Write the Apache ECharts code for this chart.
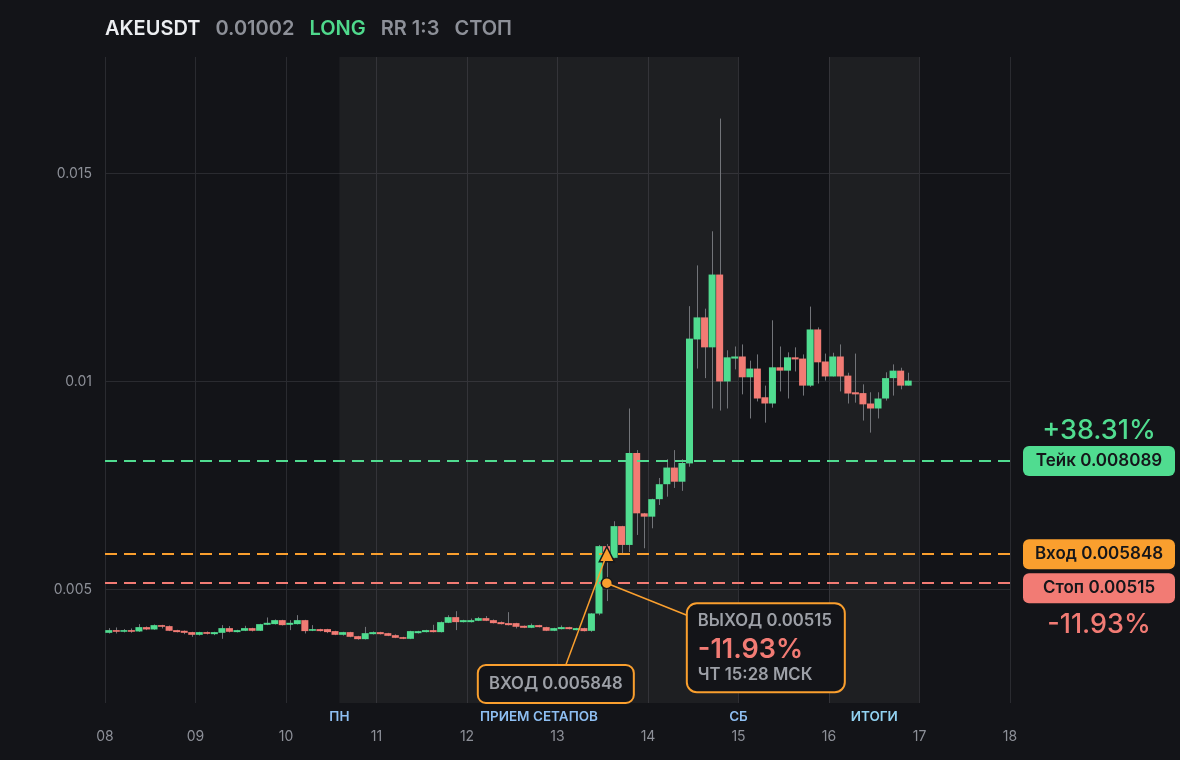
<!DOCTYPE html>
<html><head><meta charset="utf-8">
<script src="https://cdn.jsdelivr.net/npm/echarts@6/dist/echarts.min.js"></script>
<style>html,body{margin:0;padding:0;background:#131418;}#c{width:1180px;height:760px;}</style>
</head><body><div id="c"></div>
<script>
// ---------- data ----------
const symbolName = 'AKEUSDT';
const lastPrice = '0.01002';
const side = 'LONG';
const rrText = 'RR 1:3';
const statusText = 'СТОП';

const candleStartDay = 8;      // first candle opens at day 08 00:00
const candlesPerDay = 12;      // 2h candles
const opens = [0.003957,0.004022,0.003982,0.004022,0.00399,0.004094,0.004038,0.004142,0.004118,0.004022,
0.004006,0.003974,0.003909,0.003974,0.003925,0.003957,0.00407,0.003974,0.004006,0.00407,
0.004006,0.00415,0.004166,0.004262,0.00415,0.004166,0.004262,0.004006,0.004046,0.004046,
0.003998,0.003909,0.003974,0.003877,0.003805,0.003925,0.003974,0.003949,0.003901,0.003853,
0.003813,0.003949,0.003974,0.004022,0.003974,0.004198,0.004334,0.004214,0.004214,0.004246,
0.00431,0.004262,0.004214,0.00419,0.00419,0.004126,0.004078,0.004142,0.004094,0.004006,
0.004046,0.004094,0.004022,0.00407,0.004005,0.00442,0.006041,0.00576,0.006522,0.00607,
0.00828,0.00683,0.00675,0.00717,0.00753,0.00793,0.00759,0.00803,0.01101,0.01154,
0.01082,0.01257,0.0100,0.01055,0.0106,0.0101,0.01031,0.00962,0.00947,0.01034,
0.01026,0.01058,0.01055,0.0099,0.01125,0.01048,0.01012,0.0106,0.01014,0.00974,
0.00972,0.00947,0.00935,0.00959,0.01008,0.01026,0.0099];
const closes = [0.004022,0.003982,0.004022,0.003982,0.004094,0.004038,0.004142,0.004102,0.004006,0.003974,
0.003957,0.003909,0.003974,0.003933,0.003974,0.00407,0.003982,0.004022,0.00407,0.004006,
0.004166,0.004198,0.004262,0.004142,0.004198,0.004262,0.003998,0.004046,0.003998,0.003974,
0.003909,0.003974,0.003861,0.003805,0.003949,0.003974,0.003925,0.003885,0.003837,0.003813,
0.003998,0.003998,0.004022,0.003974,0.004214,0.004334,0.004214,0.004262,0.004262,0.00431,
0.004246,0.00419,0.004166,0.004142,0.004102,0.004078,0.004142,0.004094,0.004006,0.00407,
0.004094,0.004046,0.00407,0.003998,0.004423,0.006041,0.005784,0.006522,0.00607,0.00828,
0.00683,0.00675,0.00717,0.00753,0.00793,0.00759,0.00804,0.01103,0.01154,0.01082,
0.01257,0.0100,0.01058,0.0106,0.0101,0.01031,0.00959,0.00947,0.01034,0.01026,
0.01058,0.01053,0.0099,0.01125,0.01046,0.01012,0.0106,0.01012,0.00971,0.00969,
0.00945,0.00935,0.00959,0.01008,0.01026,0.0099,0.01002];
const lows = [0.00394,0.003942,0.003966,0.003958,0.00398,0.004022,0.00403,0.004062,0.003998,0.003966,
0.003925,0.003861,0.003893,0.003917,0.003901,0.003813,0.003966,0.003966,0.003998,0.00399,
0.004,0.004142,0.004158,0.004134,0.004022,0.004158,0.003942,0.003998,0.00399,0.00395,
0.003901,0.00389,0.00385,0.00379,0.003797,0.003917,0.003917,0.003877,0.003829,0.003805,
0.003805,0.003941,0.003966,0.003966,0.003966,0.00419,0.004022,0.004206,0.004206,0.004238,
0.004238,0.004182,0.004158,0.004134,0.004062,0.00407,0.00407,0.004086,0.003998,0.003998,
0.004038,0.004038,0.004014,0.00399,0.00398,0.00438,0.00472,0.00575,0.00587,0.0059,
0.00631,0.00599,0.00647,0.00703,0.00723,0.00744,0.00737,0.00795,0.01031,0.01008,
0.00935,0.0093,0.00935,0.01029,0.00969,0.00911,0.00952,0.00901,0.00937,0.00976,
0.00959,0.01024,0.00966,0.00987,0.00995,0.01002,0.01012,0.00976,0.00947,0.00949,
0.00906,0.00877,0.00911,0.00954,0.00966,0.00981,0.0099];
const highs = [0.00407,0.004086,0.004046,0.004062,0.004166,0.00411,0.004158,0.00415,0.004134,0.00403,
0.004014,0.003982,0.003982,0.00399,0.003982,0.004142,0.004118,0.00403,0.004126,0.004078,
0.004174,0.004326,0.004278,0.00427,0.004262,0.004382,0.00427,0.004142,0.004054,0.004054,
0.004006,0.003982,0.003982,0.003885,0.0041,0.00399,0.003982,0.003957,0.00392,0.003861,
0.004006,0.004006,0.00403,0.00415,0.00423,0.00438,0.004478,0.00427,0.0043,0.00434,
0.00436,0.004278,0.00423,0.004454,0.004198,0.004134,0.00418,0.00415,0.004102,0.004078,
0.004134,0.004102,0.004078,0.004078,0.00443,0.00607,0.00609,0.00664,0.00653,0.00935,
0.00835,0.00684,0.00718,0.00768,0.00813,0.00835,0.00813,0.01181,0.01279,0.01175,
0.01361,0.01632,0.01075,0.01084,0.01089,0.0105,0.01065,0.0099,0.01147,0.01084,
0.0107,0.01082,0.01065,0.0118,0.0113,0.01067,0.01069,0.01089,0.01021,0.01067,
0.00993,0.00974,0.00974,0.01022,0.01041,0.01033,0.01021];

const dayTickLabels = ['08','09','10','11','12','13','14','15','16','17','18'];
const priceTickLabels = {'0.005':'0.005','0.01':'0.01','0.015':'0.015'};

const takePrice = 0.008089, entryPrice = 0.005848, stopPrice = 0.00515;
const tradeTime = 13.545;
const takeText = 'Тейк 0.008089', entryText = 'Вход 0.005848', stopText = 'Стоп 0.00515';
const takePct = '+38.31%', stopPct = '-11.93%';
const entryCallout = 'ВХОД 0.005848';
const exitCallout = ['ВЫХОД 0.00515', '-11.93%', 'ЧТ 15:28 МСК'];

const sessionBands = [[10.59, 15, 'ПРИЕМ СЕТАПОВ', '#8ebff3'], [16, 17, 'ИТОГИ', '#92d3f2']];
const dayMarkers = [[10.59, 'ПН'], [15, 'СБ']];

// ---------- style ----------
const BG = '#131418', GREEN = '#50dc90', RED = '#f27b74', ORANGE = '#fa9f2e', GREY = '#8d9098', TXT = '#9da0a7';
const BLUE = '#8ebff3';
const FONT = 'Inter';

const candleData = opens.map((o, i) => [candleStartDay + (i + 0.5) / candlesPerDay, o, closes[i], lows[i], highs[i]]);

function renderCandle(params, api) {
  const x = api.value(0), o = api.value(1), c = api.value(2), l = api.value(3), h = api.value(4);
  const pO = api.coord([x, o]), pC = api.coord([x, c]), pL = api.coord([x, l]), pH = api.coord([x, h]);
  const w = api.size([1 / candlesPerDay, 0])[0] * 0.93;
  const top = Math.min(pO[1], pC[1]);
  let hh = Math.abs(pO[1] - pC[1]); if (hh < 1.5) hh = 1.5;
  const wx = Math.round(pO[0]) + 0.5;
  return {type: 'group', children: [
    {type: 'line', shape: {x1: wx, y1: pL[1], x2: wx, y2: pH[1]}, style: {stroke: '#727479', lineWidth: 1}},
    {type: 'rect', shape: {x: pO[0] - w / 2, y: top, width: w, height: hh}, style: {fill: c >= o ? GREEN : RED}}
  ]};
}

const chart = echarts.init(document.getElementById('c'));
const GRID = {left: 105, right: 170, top: 57, bottom: 57};
const DASH = [12, 7];
chart.setOption({
  backgroundColor: BG,
  animation: false,
  textStyle: {fontFamily: FONT},
  title: {
    left: 105, top: 15, padding: 0,
    text: `{s|${symbolName}}{p|${lastPrice}}{l|${side}}{g|${rrText}}{h|${statusText}}`,
    textStyle: {rich: {
      s: {color: '#eceef1', fontSize: 20, fontWeight: 600, fontFamily: FONT, lineHeight: 28, padding: [0, 15, 0, 0]},
      p: {color: GREY, fontSize: 20, fontWeight: 600, fontFamily: FONT, lineHeight: 28, padding: [0, 15, 0, 0]},
      l: {color: '#4fd98c', fontSize: 20, fontWeight: 600, fontFamily: FONT, lineHeight: 28, padding: [0, 15, 0, 0]},
      g: {color: GREY, fontSize: 20, fontWeight: 600, fontFamily: FONT, lineHeight: 28, padding: [0, 15, 0, 0]},
      h: {color: GREY, fontSize: 20, fontWeight: 600, fontFamily: FONT, lineHeight: 28}
    }}
  },
  grid: GRID,
  xAxis: {
    type: 'value', min: 8, max: 18, interval: 1,
    axisLine: {show: false}, axisTick: {show: false},
    axisLabel: {color: GREY, fontSize: 14, fontFamily: FONT, margin: 27,
      formatter: v => dayTickLabels[Math.round(v - 8)] || ''},
    splitLine: {show: true, lineStyle: {color: '#2a2b30', width: 1}}
  },
  yAxis: {
    type: 'value', min: 0.00227, max: 0.0178, splitNumber: 3,
    axisLine: {show: false}, axisTick: {show: false},
    axisLabel: {color: GREY, fontSize: 14, fontFamily: FONT, margin: 13, showMinLabel: false, showMaxLabel: false,
      formatter: v => priceTickLabels[String(parseFloat(v.toFixed(6)))] || ''},
    splitLine: {show: true, showMinLine: false, showMaxLine: false, lineStyle: {color: '#2a2b30', width: 1}}
  },
  series: [
    {
      type: 'custom', name: 'candles', renderItem: renderCandle, data: candleData, clip: true, z: 2,
      encode: {x: 0, y: [1, 2, 3, 4]},
      markArea: {
        silent: true,
        itemStyle: {color: 'rgba(255,255,255,0.047)'},
        label: {position: 'bottom', distance: 7, fontSize: 13.5, fontWeight: 600, fontFamily: FONT},
        data: sessionBands.map(b => [{xAxis: b[0], name: b[2], label: {color: b[3]}}, {xAxis: b[1]}])
      }
    },
    {
      type: 'scatter', name: 'trade', z: 10,
      data: [
        {value: [tradeTime, entryPrice], symbol: 'triangle', symbolSize: 15},
        {value: [tradeTime, stopPrice], symbol: 'circle', symbolSize: 11}
      ],
      itemStyle: {color: ORANGE, borderColor: '#16171b', borderWidth: 1.5, opacity: 1},
      markLine: {
        silent: true, symbol: 'none', label: {show: false}, z: 5, precision: 6,
        data: [
          {yAxis: takePrice, lineStyle: {color: GREEN, type: DASH, width: 2}},
          {yAxis: entryPrice, lineStyle: {color: ORANGE, type: DASH, width: 2}},
          {yAxis: stopPrice, lineStyle: {color: RED, type: DASH, width: 2}}
        ]
      }
    }
  ]
});

// ---------- annotations anchored through the axes ----------
function px(x, y) { return chart.convertToPixel({gridIndex: 0}, [x, y]); }
const pE = px(tradeTime, entryPrice), pS = px(tradeTime, stopPrice), pT = px(tradeTime, takePrice);
const gridBottom = 760 - GRID.bottom, gridRight = 1180 - GRID.right;

const entryBox = {x: pE[0] - 129, y: gridBottom - 38, w: 156, h: 38};
const exitBox = {x: pS[0] + 80, y: pS[1] + 20, w: 158, h: 89};
const bx = gridRight + 13, bw = 152, bh = 30;
const takeBoxY = pT[1] - bh / 2;
const entryBoxY = pE[1] - bh / 2;
const stopBoxY = Math.max(pS[1] - bh / 2, entryBoxY + bh + 4);

function pill(y, fill, text) {
  return [
    {type: 'rect', shape: {x: bx, y: y, width: bw, height: bh, r: 6}, style: {fill: fill}, z: 20},
    {type: 'text', x: bx + bw / 2, y: y + bh / 2, z: 21,
      style: {text: text, fill: '#15161a', font: `600 17px ${FONT}`, align: 'center', verticalAlign: 'middle'}}
  ];
}

const dayMarkerTexts = dayMarkers.map(d => {
  const p = px(d[0], 0.01);
  return {type: 'text', x: p[0], y: gridBottom + 13.5, z: 21,
    style: {text: d[1], fill: BLUE, font: `600 13.5px ${FONT}`, align: 'center', verticalAlign: 'middle'}};
});

const graphics = [
  ...dayMarkerTexts,
  {type: 'line', shape: {x1: pE[0], y1: pE[1], x2: pE[0] - 41, y2: entryBox.y}, style: {stroke: ORANGE, lineWidth: 1.5}, z: 15},
  {type: 'rect', shape: {x: entryBox.x, y: entryBox.y, width: entryBox.w, height: entryBox.h, r: 8},
    style: {fill: BG, stroke: ORANGE, lineWidth: 2}, z: 16},
  {type: 'text', x: entryBox.x + entryBox.w / 2, y: entryBox.y + entryBox.h / 2, z: 17,
    style: {text: entryCallout, fill: TXT, font: `600 16.7px ${FONT}`, align: 'center', verticalAlign: 'middle'}},

  {type: 'line', shape: {x1: pS[0], y1: pS[1], x2: exitBox.x, y2: exitBox.y + 12}, style: {stroke: ORANGE, lineWidth: 1.5}, z: 15},
  {type: 'rect', shape: {x: exitBox.x, y: exitBox.y, width: exitBox.w, height: exitBox.h, r: 10},
    style: {fill: BG, stroke: ORANGE, lineWidth: 2}, z: 16},
  {type: 'text', x: exitBox.x + 11, y: exitBox.y + 18, z: 17,
    style: {text: exitCallout[0], fill: TXT, font: `600 16.7px ${FONT}`, align: 'left', verticalAlign: 'middle'}},
  {type: 'text', x: exitBox.x + 11, y: exitBox.y + 47, z: 17,
    style: {text: exitCallout[1], fill: RED, font: `600 27px ${FONT}`, align: 'left', verticalAlign: 'middle'}},
  {type: 'text', x: exitBox.x + 11, y: exitBox.y + 72, z: 17,
    style: {text: exitCallout[2], fill: TXT, font: `600 16.7px ${FONT}`, align: 'left', verticalAlign: 'middle'}},

  {type: 'text', x: bx + bw / 2, y: takeBoxY - 15, z: 21,
    style: {text: takePct, fill: GREEN, font: `500 27px ${FONT}`, align: 'center', verticalAlign: 'middle'}},
  ...pill(takeBoxY, GREEN, takeText),
  ...pill(entryBoxY, ORANGE, entryText),
  ...pill(stopBoxY, RED, stopText),
  {type: 'text', x: bx + bw / 2, y: stopBoxY + bh + 22, z: 21,
    style: {text: stopPct, fill: RED, font: `500 27px ${FONT}`, align: 'center', verticalAlign: 'middle'}}
];
chart.setOption({graphic: graphics});
</script>
</body></html>
